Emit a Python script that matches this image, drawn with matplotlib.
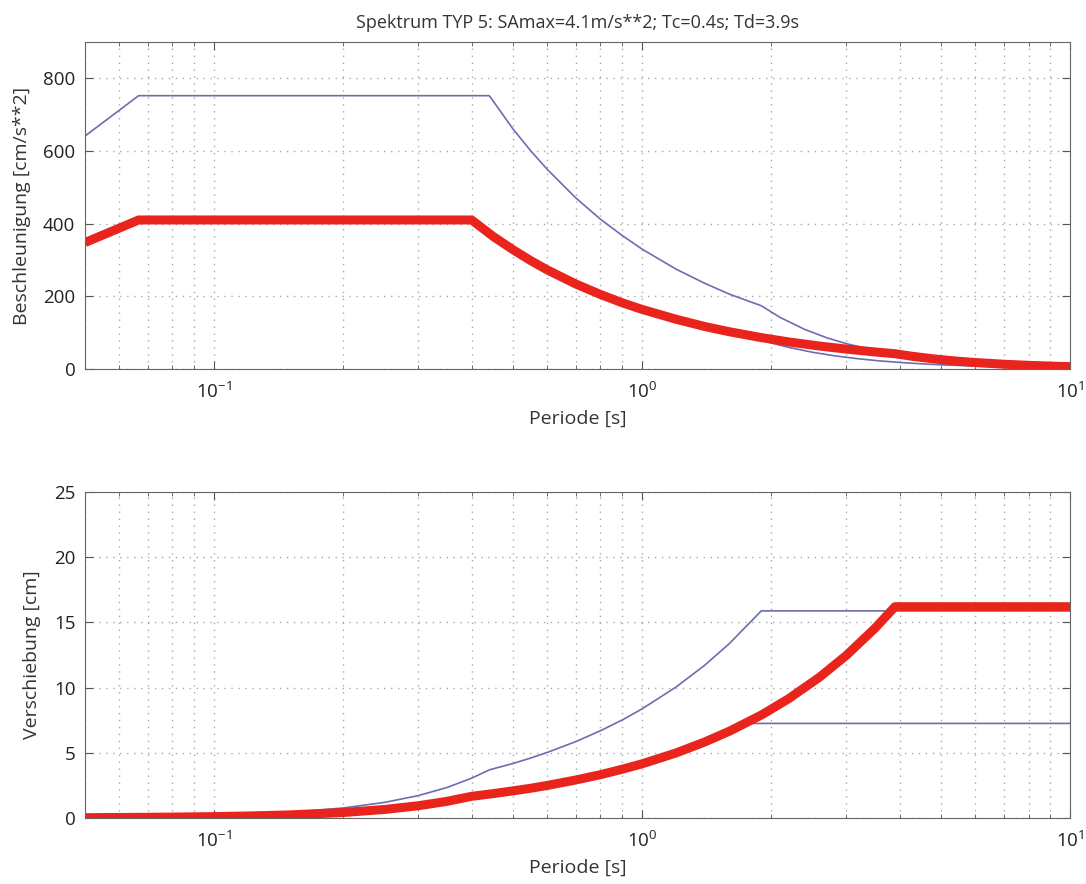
import numpy as np
import matplotlib
matplotlib.use('Agg')
import matplotlib.pyplot as plt
from matplotlib.ticker import LogLocator, NullFormatter

plt.rcParams['font.family'] = ['Open Sans', 'DejaVu Sans']
plt.rcParams['font.size'] = 13.5
plt.rcParams['text.color'] = '#333333'
plt.rcParams['axes.labelcolor'] = '#333333'
plt.rcParams['xtick.color'] = '#555555'
plt.rcParams['ytick.color'] = '#555555'
plt.rcParams['xtick.labelcolor'] = '#222222'
plt.rcParams['ytick.labelcolor'] = '#222222'

title = 'Spektrum TYP 5: SAmax=4.1m/s**2; Tc=0.4s; Td=3.9s'

# red spectrum (periods [s], acceleration [cm/s**2], displacement [cm])
T_red = [0.05, 0.0667, 0.08, 0.1, 0.12, 0.15, 0.2, 0.25, 0.3, 0.35, 0.4,
         0.45, 0.5, 0.55, 0.6, 0.7, 0.8, 0.9, 1.0,
         1.2, 1.4, 1.6, 1.9, 2.2, 2.6, 3.0, 3.5, 3.9,
         4.3, 4.8, 5.4, 6.0, 7.0, 8.0, 9.0, 10.0]
acc_red = [348, 410, 410, 410, 410, 410, 410, 410, 410, 410, 410,
           364, 328, 298, 273, 234, 205, 182, 164,
           137, 117, 102.5, 86.3, 74.5, 63.1, 54.7, 46.9, 42.0,
           34.6, 27.8, 21.9, 17.8, 13.1, 10.0, 7.9, 6.4]
dis_red = [0.022, 0.046, 0.066, 0.104, 0.150, 0.234, 0.415, 0.649, 0.935, 1.272, 1.66,
           1.87, 2.08, 2.28, 2.49, 2.91, 3.32, 3.74, 4.15,
           4.98, 5.82, 6.65, 7.89, 9.14, 10.8, 12.46, 14.54, 16.2,
           16.2, 16.2, 16.2, 16.2, 16.2, 16.2, 16.2, 16.2]

# upper blue spectrum
T_blue = [0.05, 0.0667, 0.08, 0.1, 0.12, 0.15, 0.2, 0.25, 0.3, 0.35, 0.4, 0.44,
          0.5, 0.55, 0.6, 0.7, 0.8, 0.9, 1.0,
          1.2, 1.4, 1.6, 1.9,
          2.1, 2.4, 2.7, 3.0, 3.5, 4.0, 4.5, 5.0, 6.0, 7.0, 8.0, 9.0, 10.0]
acc_blue = [641, 752, 752, 752, 752, 752, 752, 752, 752, 752, 752, 752,
            660, 600, 550, 471, 412, 367, 330,
            275, 236, 206, 174,
            142.2, 108.9, 86.0, 69.7, 51.2, 39.2, 31.0, 25.1, 17.4, 12.8, 9.8, 7.7, 6.3]
dis_blue = [0.041, 0.085, 0.122, 0.19, 0.274, 0.429, 0.762, 1.19, 1.71, 2.33, 3.05, 3.69,
            4.18, 4.60, 5.02, 5.85, 6.69, 7.52, 8.36,
            10.03, 11.7, 13.37, 15.88,
            15.88, 15.88, 15.88, 15.88, 15.88, 15.88, 15.88, 15.88, 15.88, 15.88, 15.88, 15.88, 15.88]

# lower blue spectrum (mostly under the red one)
T_low = [0.05, 0.0667, 0.08, 0.1, 0.12, 0.15, 0.2, 0.25, 0.3, 0.35, 0.4,
         0.45, 0.5, 0.55, 0.6, 0.7, 0.8, 0.9, 1.0,
         1.2, 1.4, 1.6, 1.8,
         2.0, 2.2, 2.5, 2.8, 3.2, 3.6, 4.0, 4.5, 5.0, 6.0, 7.0, 8.0, 9.0, 10.0]
acc_low = [345, 405, 405, 405, 405, 405, 405, 405, 405, 405, 405,
           356, 320, 291, 267, 229, 200, 178, 160,
           133, 114, 100, 88.9,
           72.0, 59.5, 46.1, 36.7, 28.1, 22.2, 18.0, 14.2, 11.5, 8.0, 5.9, 4.5, 3.6, 2.9]
dis_low = [0.022, 0.046, 0.066, 0.103, 0.148, 0.231, 0.410, 0.641, 0.923, 1.257, 1.64,
           1.82, 2.03, 2.23, 2.43, 2.84, 3.24, 3.65, 4.05,
           4.86, 5.67, 6.48, 7.25,
           7.25, 7.25, 7.25, 7.25, 7.25, 7.25, 7.25, 7.25, 7.25, 7.25, 7.25, 7.25, 7.25, 7.25]

blue = '#6a6eb0'
red = '#e8241c'

fig = plt.figure(figsize=(10.86, 8.84), dpi=100)
ax1 = fig.add_axes([0.0783, 0.5826, 0.907, 0.3700])
ax2 = fig.add_axes([0.0783, 0.0747, 0.907, 0.3688])


def style(ax):
    ax.set_xscale('log')
    ax.set_xlim(0.05, 10)
    ax.xaxis.set_minor_locator(LogLocator(base=10, subs=np.arange(2, 10)))
    ax.xaxis.set_minor_formatter(NullFormatter())
    ax.grid(True, which='major', linestyle=(0, (1, 4)), color='#a8a8a8', linewidth=1.0)
    ax.grid(True, which='minor', axis='x', linestyle=(0, (1, 4)), color='#a8a8a8', linewidth=1.0)
    ax.tick_params(which='both', direction='in', top=True, right=True)
    ax.tick_params(which='major', length=6)
    ax.tick_params(axis='y', which='major', pad=7)
    ax.tick_params(axis='x', which='major', pad=9)
    ax.tick_params(which='minor', length=3)
    for s in ax.spines.values():
        s.set_color('#666666')
    ax.set_axisbelow(True)
    ax.set_xlabel('Periode [s]', fontsize=14, labelpad=6)


ax1.plot(T_low, acc_low, color=blue, lw=1.2)
ax1.plot(T_blue, acc_blue, color=blue, lw=1.2)
ax1.plot(T_red, acc_red, color=red, lw=6.5, solid_capstyle='butt')
style(ax1)
ax1.set_ylim(0, 900)
ax1.set_yticks([0, 200, 400, 600, 800])
ax1.set_ylabel('Beschleunigung [cm/s**2]', fontsize=14, labelpad=9)
ax1.set_title(title, fontsize=13, pad=10)

ax2.plot(T_low, dis_low, color=blue, lw=1.2)
ax2.plot(T_blue, dis_blue, color=blue, lw=1.2)
ax2.plot(T_red, dis_red, color=red, lw=6.5, solid_capstyle='butt')
style(ax2)
ax2.set_ylim(0, 25)
ax2.set_yticks([0, 5, 10, 15, 20, 25])
ax2.set_ylabel('Verschiebung [cm]', fontsize=14, labelpad=9)

fig.savefig('out.png', dpi=100)
